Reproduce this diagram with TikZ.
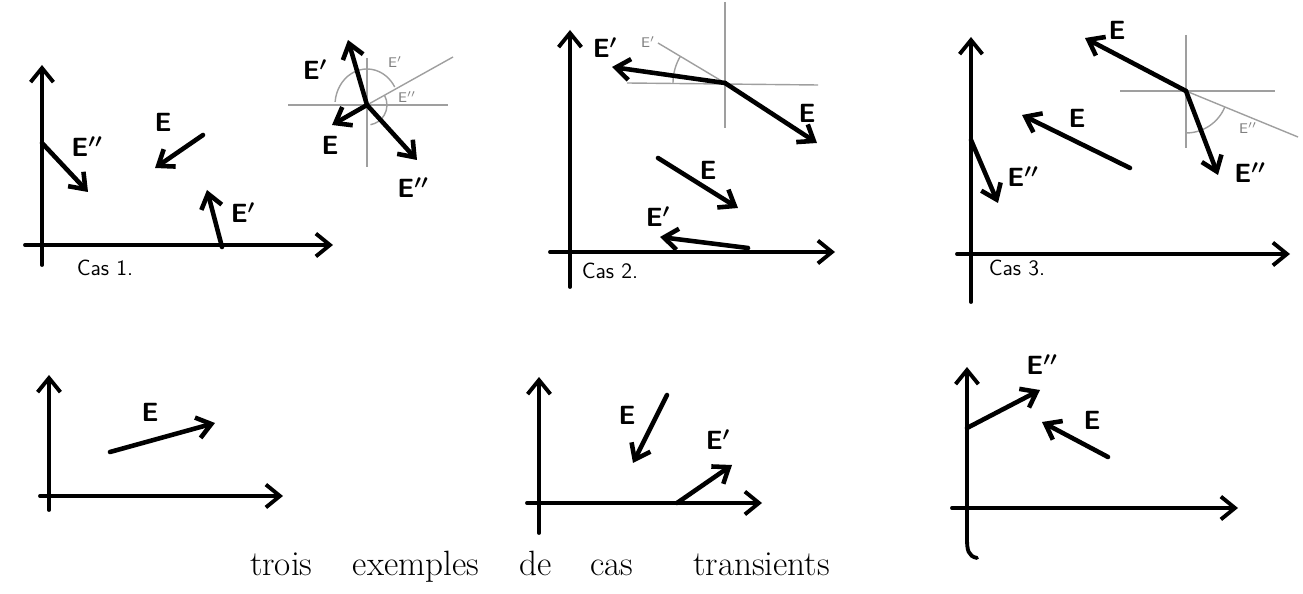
\documentclass[tikz,border=0pt]{standalone}
\usepackage{amsmath}
\usepackage{tikz}
\usepackage{xcolor}
\usetikzlibrary{arrows.meta}

\tikzset{
  axe/.style={line width=2.2pt, line cap=round, -{Straight Barb[length=8pt,width=13pt]}},
  vect/.style={line width=2.6pt, line cap=round, -{Straight Barb[length=8pt,width=12pt]}},
  aide/.style={gray!75, line width=0.8pt},
  lettre/.style={font=\sffamily\bfseries\boldmath\fontsize{15}{18}\selectfont, inner sep=1pt},
  petit/.style={gray, font=\sffamily\fontsize{8}{9}\selectfont, inner sep=1pt},
  cas/.style={font=\sffamily\fontsize{12.5}{14}\selectfont, inner sep=1pt}
}

\begin{document}
\begin{tikzpicture}[x=0.02cm, y=0.02cm]
\useasboundingbox (0,-594) rectangle (1303,0);
% Cas 1
\draw[axe] (42,-265) -- (42,-65);
\draw[axe] (25,-245) -- (333,-245);
\draw[vect] (42,-143) -- (88,-192);
\draw[vect] (203,-135) -- (155,-168);
\draw[vect] (222,-247) -- (207,-190);
\node[lettre] (c1E2) at (87,-147) {E$''$};
\node[lettre] (c1E) at (163,-122) {E};
\node[lettre] (c1E1) at (243,-213) {E$'$};
\node[cas] (cas1) at (105,-268) {Cas 1.};
\coordinate (O1) at (367,-105);
\draw[aide] (288,-105) -- (448,-105);
\draw[aide] (367,-58) -- (367,-167);
\draw[aide] (O1) -- (453,-57);
\draw[aide] ([shift={(30:32 and 36)}]O1) arc[start angle=30, end angle=175, x radius=32, y radius=36];
\draw[aide] ([shift={(29:20)}]O1) arc[start angle=29, end angle=-80, radius=20];
\draw[vect] (O1) -- (348,-40);
\draw[vect] (O1) -- (332,-125);
\draw[vect] (O1) -- (417,-160);
\node[lettre] (i1E1) at (315,-70) {E$'$};
\node[lettre] (i1E) at (330,-145) {E};
\node[lettre] (i1E2) at (413,-188) {E$''$};
\node[petit] (g1E1) at (395,-62) {E$'$};
\node[petit] (g1E2) at (407,-97) {E$''$};
% Cas 2
\draw[axe] (570,-287) -- (570,-30);
\draw[axe] (550,-252) -- (835,-252);
\node[cas] (cas2) at (610,-271) {Cas 2.};
\coordinate (O2) at (725,-83);
\draw[aide] (627,-83) -- (818,-85);
\draw[aide] (725,-2) -- (725,-128);
\draw[aide] (O2) -- (658,-43);
\draw[aide] ([shift={(149:52)}]O2) arc[start angle=149, end angle=180, radius=52];
\node[petit] (g2E1) at (648,-42) {E$'$};
\draw[vect] (O2) -- (612,-67);
\draw[vect] (O2) -- (817,-143);
\node[lettre] (i2E1) at (605,-48) {E$'$};
\node[lettre] (i2E) at (807,-113) {E};
\draw[vect] (658,-158) -- (738,-208);
\draw[vect] (748,-248) -- (660,-237);
\node[lettre] (c2E) at (708,-170) {E};
\node[lettre] (c2E1) at (658,-217) {E$'$};
% Cas 3
\draw[axe] (971,-302) -- (971,-37);
\draw[axe] (957,-254) -- (1290,-254);
\node[cas] (cas3) at (1017,-268) {Cas 3.};
\draw[vect] (971,-140) -- (998,-203);
\draw[vect] (1130,-168) -- (1022,-115);
\node[lettre] (c3E2) at (1023,-177) {E$''$};
\node[lettre] (c3E) at (1077,-118) {E};
\coordinate (O3) at (1186,-91);
\draw[aide] (1120,-91) -- (1275,-91);
\draw[aide] (1186,-35) -- (1186,-148);
\draw[aide] (O3) -- (1298,-137);
\draw[aide] ([shift={(-22:42)}]O3) arc[start angle=-22, end angle=-90, radius=42];
\node[petit] (g3E2) at (1248,-128) {E$''$};
\draw[vect] (O3) -- (1085,-38);
\draw[vect] (O3) -- (1218,-175);
\node[lettre] (i3E) at (1117,-30) {E};
\node[lettre] (i3E2) at (1250,-173) {E$''$};
% transitoires
\draw[axe] (49,-510) -- (49,-375);
\draw[axe] (40,-496) -- (283,-496);
\draw[vect] (110,-452) -- (215,-423);
\node[lettre] (t1E) at (150,-412) {E};
\draw[axe] (539,-533) -- (539,-377);
\draw[axe] (527,-503) -- (762,-503);
\draw[vect] (667,-395) -- (633,-463);
\draw[vect] (677,-503) -- (732,-465);
\node[lettre] (t2E) at (627,-415) {E};
\node[lettre] (t2E1) at (718,-440) {E$'$};
\draw[axe] (977,-558) .. controls (968,-556) and (967,-550) .. (967,-538) -- (967,-367);
\draw[axe] (952,-508) -- (1238,-508);
\draw[vect] (967,-428) -- (1040,-390);
\draw[vect] (1108,-457) -- (1042,-422);
\node[lettre] (t3E2) at (1042,-365) {E$''$};
\node[lettre] (t3E) at (1092,-420) {E};
\node[font=\fontsize{20}{24}\selectfont] (titre) at (540,-567) {trois\hspace{23pt}exemples\hspace{23pt}de\hspace{22pt}cas\hspace{34pt}transients};
\end{tikzpicture}
\end{document}
